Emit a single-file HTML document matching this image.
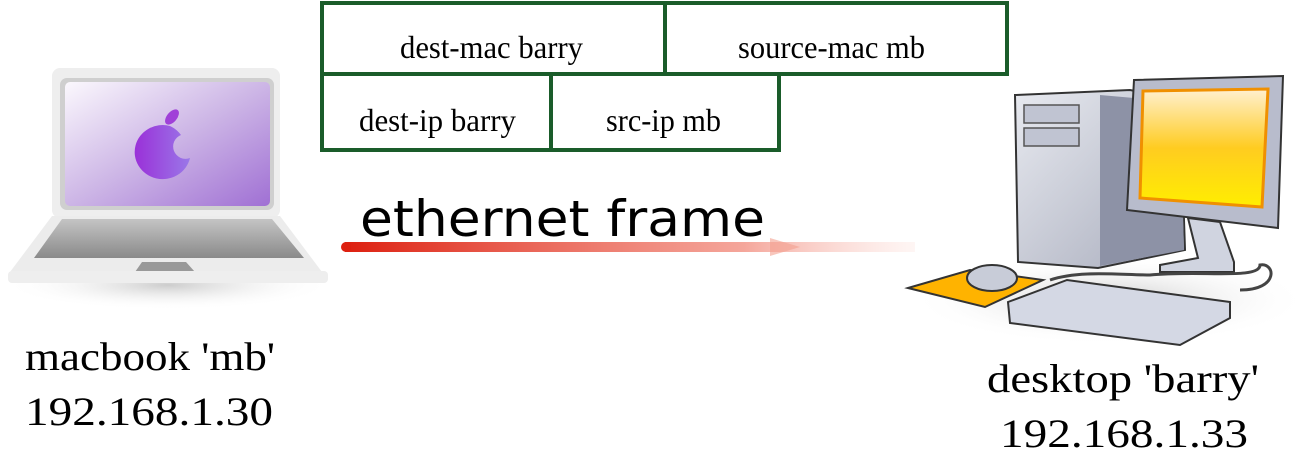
<!DOCTYPE html>
<html><head><meta charset="utf-8"><style>
html,body{margin:0;padding:0;background:#fff;}
svg{display:block;}
.s{font-family:"Liberation Serif",serif;fill:#000;}
</style></head><body>
<svg width="1315" height="451" viewBox="0 0 1315 451" xmlns="http://www.w3.org/2000/svg">
<defs>
<linearGradient id="red" x1="0" x2="1"><stop offset="0" stop-color="#dd2010"/><stop offset="0.7" stop-color="#f08070" stop-opacity="0.7"/><stop offset="1" stop-color="#fbd0c8" stop-opacity="0.2"/></linearGradient>
<linearGradient id="scr" x1="0" y1="0" x2="1" y2="1"><stop offset="0" stop-color="#fbf8fd"/><stop offset="0.5" stop-color="#cdb6e6"/><stop offset="1" stop-color="#a070d4"/></linearGradient>
<linearGradient id="apl" x1="0" x2="1"><stop offset="0" stop-color="#9a30d8"/><stop offset="1" stop-color="#9a78e8"/></linearGradient>
<linearGradient id="kb" x1="0" y1="0" x2="0" y2="1"><stop offset="0" stop-color="#c4c4c4"/><stop offset="1" stop-color="#8a8a8a"/></linearGradient>
<linearGradient id="yel" x1="0" y1="0" x2="0" y2="1"><stop offset="0" stop-color="#fff0d0"/><stop offset="0.5" stop-color="#ffcc20"/><stop offset="1" stop-color="#ffee00"/></linearGradient>
<linearGradient id="gry" x1="0" y1="0" x2="1" y2="1"><stop offset="0" stop-color="#e8eaf0"/><stop offset="1" stop-color="#a8acbc"/></linearGradient>
<radialGradient id="sh" cx="0.5" cy="0.5" r="0.5"><stop offset="0" stop-color="#ccc"/><stop offset="1" stop-color="#fff" stop-opacity="0"/></radialGradient>
</defs>
<g fill="none" stroke="#1a5c2a" stroke-width="4">
<rect x="322" y="3" width="685" height="71"/>
<line x1="665" y1="3" x2="665" y2="74"/>
<rect x="322" y="74" width="457" height="76"/>
<line x1="551" y1="74" x2="551" y2="150"/>
</g>
<g class="s" font-size="32">
<text x="400" y="58" textLength="183" lengthAdjust="spacingAndGlyphs">dest-mac barry</text>
<text x="738" y="58" textLength="187" lengthAdjust="spacingAndGlyphs">source-mac mb</text>
<text x="359" y="131" textLength="157" lengthAdjust="spacingAndGlyphs">dest-ip barry</text>
<text x="606" y="131" textLength="115" lengthAdjust="spacingAndGlyphs">src-ip mb</text>
</g>
<text x="360" y="236" font-family="DejaVu Sans,sans-serif" font-size="50" fill="#000" textLength="405" lengthAdjust="spacingAndGlyphs">ethernet frame</text>
<path d="M345 242 L915 242 L915 252 L345 252 Z" fill="url(#red)"/>
<path d="M770 238 L800 247 L770 256 Z" fill="#f4a090" opacity="0.6"/>
<circle cx="346" cy="247" r="5" fill="#dd2010"/>
<ellipse cx="168" cy="285" rx="165" ry="25" fill="url(#sh)"/>
<rect x="52" y="68" width="228" height="150" rx="8" fill="#eeeeee"/>
<rect x="60" y="78" width="214" height="132" rx="7" fill="#cfcfcf"/>
<rect x="65" y="82" width="205" height="124" rx="5" fill="url(#scr)"/>
<path d="M170 126 A28 27 0 1 0 190 158 A11 11 0 0 1 181 135 A28 27 0 0 0 170 126 Z" fill="url(#apl)"/>
<ellipse cx="172" cy="117" rx="5" ry="9" transform="rotate(40 172 117)" fill="#a040d8"/>
<path d="M52 216 L280 216 L322 272 L10 272 Z" fill="#ececec"/>
<path d="M62 219 L272 219 L304 258 L34 258 Z" fill="url(#kb)"/>
<path d="M142 262 L186 262 L195 272 L135 272 Z" fill="#999"/>
<rect x="8" y="271" width="320" height="12" rx="4" fill="#eee"/>
<ellipse cx="1110" cy="300" rx="200" ry="45" fill="url(#sh)"/>
<path d="M1015 95 L1130 90 L1180 100 L1185 250 L1098 268 L1018 262 Z" fill="url(#gry)" stroke="#333" stroke-width="2"/>
<path d="M1100 95 L1180 102 L1184 250 L1100 266 Z" fill="#8d92a6"/>
<rect x="1024" y="105" width="55" height="18" fill="#c0c4d2" stroke="#555" stroke-width="1.5"/>
<rect x="1024" y="128" width="55" height="18" fill="#c0c4d2" stroke="#555" stroke-width="1.5"/>
<path d="M1188 218 L1220 222 L1234 262 L1234 272 L1160 272 L1160 265 L1198 258 Z" fill="#d0d4e0" stroke="#333" stroke-width="2"/>
<path d="M1134 80 L1283 76 L1278 228 L1127 210 Z" fill="#b8bccc" stroke="#333" stroke-width="2"/>
<path d="M1143 91 L1268 89 L1262 207 L1140 198 Z" fill="url(#yel)" stroke="#f09000" stroke-width="3"/>
<path d="M1050 280 C1080 270 1120 275 1150 275 C1200 270 1260 280 1260 265 C1275 262 1280 290 1240 290" fill="none" stroke="#444" stroke-width="3"/>
<path d="M908 288 L970 270 L1043 280 L985 307 Z" fill="#ffb300" stroke="#333" stroke-width="2"/>
<ellipse cx="992" cy="278" rx="25" ry="13" fill="#c8ccd8" stroke="#333" stroke-width="2"/>
<path d="M1008 302 L1067 280 L1230 302 L1230 318 L1180 345 L1010 323 Z" fill="#d4d8e4" stroke="#333" stroke-width="2"/>
<g class="s" font-size="40">
<text x="25" y="370" textLength="250" lengthAdjust="spacingAndGlyphs">macbook 'mb'</text>
<text x="25" y="425" textLength="248" lengthAdjust="spacingAndGlyphs">192.168.1.30</text>
<text x="987" y="392" textLength="272" lengthAdjust="spacingAndGlyphs">desktop 'barry'</text>
<text x="1000" y="447" textLength="248" lengthAdjust="spacingAndGlyphs">192.168.1.33</text>
</g>
</svg>
</body></html>
